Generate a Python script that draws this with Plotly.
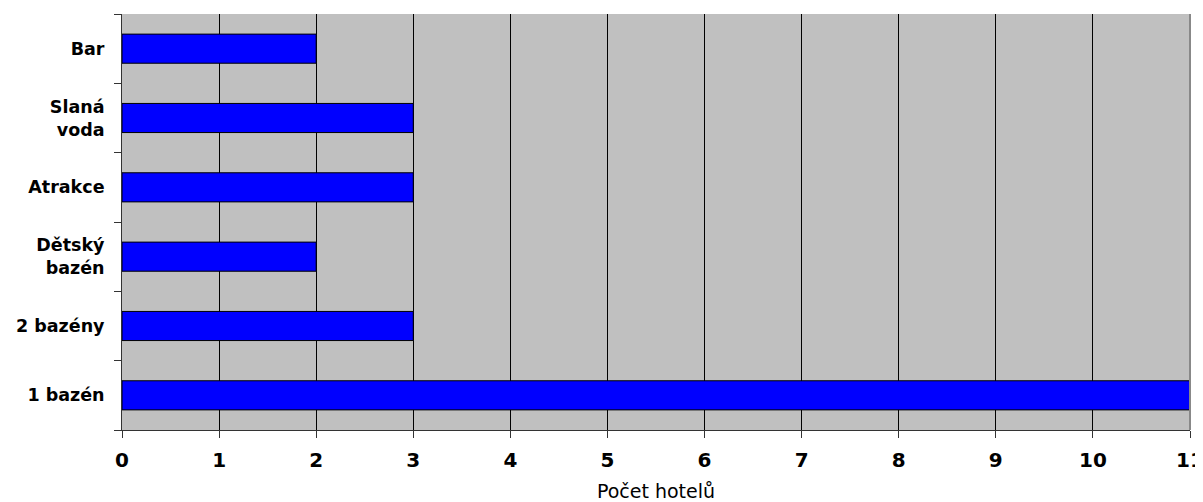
import plotly.graph_objects as go

categories = ["1 bazén", "2 bazény", "Dětský<br>bazén", "Atrakce", "Slaná<br>voda", "Bar"]
values = [11, 3, 2, 3, 3, 2]
x_ticks = list(range(0, 12))

fig = go.Figure()
fig.add_trace(go.Bar(
    x=values, y=categories, orientation="h",
    marker=dict(color="#0000FF", line=dict(color="#000000", width=1)),
    width=0.42,
))

# page body has an 8px margin, so the figure is sized to fit 1203x502 from (8, 8)
fig.update_layout(
    width=1195, height=494,
    margin=dict(l=114, r=13, t=6, b=72, autoexpand=False),
    paper_bgcolor="white", plot_bgcolor="#C0C0C0",
    showlegend=False,
    font=dict(family="DejaVu Sans, Arial, sans-serif", color="black"),
)
fig.update_xaxes(
    range=[0, 11], tickvals=x_ticks, ticktext=[f"<b>{v}</b>" for v in x_ticks],
    tickfont=dict(size=20), showgrid=True, gridcolor="black", gridwidth=1,
    showline=True, linecolor="#333333", linewidth=1,
    ticks="outside", ticklen=7, tickcolor="#333333", ticklabelstandoff=5,
    zeroline=False, automargin=False, ticklabeloverflow="allow",
    title=dict(text="Počet hotelů", font=dict(size=19), standoff=13),
)
fig.update_yaxes(
    type="category", categoryorder="array", categoryarray=categories,
    tickvals=categories, ticktext=[f"<b>{c}</b>" for c in categories],
    tickfont=dict(size=17.5), tickson="boundaries",
    showline=True, linecolor="#333333", linewidth=1,
    ticks="outside", ticklen=7, tickcolor="#333333",
    showgrid=False, ticklabelstandoff=13, automargin=False,
)
fig.add_shape(type="line", xref="paper", yref="paper", x0=1, x1=1, y0=0, y1=1,
              line=dict(color="#888888", width=2))
fig.write_html("out.html")
